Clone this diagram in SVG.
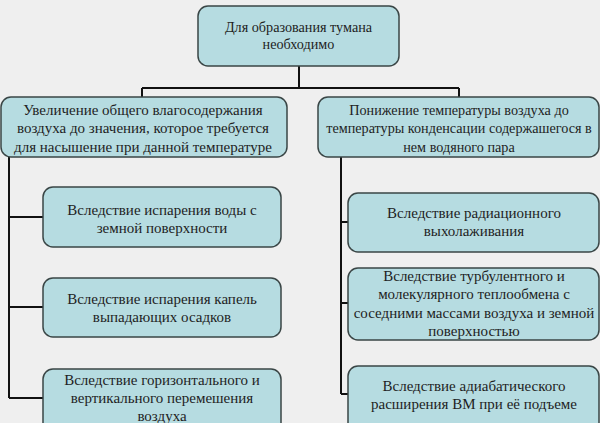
<svg xmlns="http://www.w3.org/2000/svg" width="600" height="423" viewBox="0 0 600 423">
<style>
.box{fill:#b6dce1;stroke:#3a4646;stroke-width:1.5}
.t{font-family:'Liberation Serif','DejaVu Serif',serif;font-size:15px;fill:#1e1e1e;text-anchor:middle}
.s{font-size:14.2px}
.c{fill:none;stroke:#111;stroke-width:2}
</style>
<rect width="600" height="423" fill="#efefef"/>
<g id="connectors">
<path class="c" d="M299 66V88M142 88H459M142 88V97M459 88V97"/>
<path class="c" d="M9 157V398M9 217H43M9 307H43M9 398H43"/>
<path class="c" d="M341 157V394M341 222H348M341 303H348M341 394H348"/>
</g>
<g id="root">
<rect class="box" x="198" y="6" width="201" height="60" rx="10"/>
<text class="t s" x="298.5" y="32">Для образования тумана</text>
<text class="t s" x="298.5" y="49">необходимо</text>
</g>
<g id="left1">
<rect class="box" x="1" y="97" width="286" height="60" rx="10"/>
<text class="t" x="143" y="115">Увеличение общего влагосодержания</text>
<text class="t" x="143" y="133">воздуха до значения, которое требуется</text>
<text class="t" x="143" y="152">для насышение  при данной температуре</text>
</g>
<g id="right1">
<rect class="box" x="318" y="97" width="281" height="60" rx="10"/>
<text class="t s" x="459" y="115">Понижение температуры воздуха до</text>
<text class="t s" x="459" y="133">температуры конденсации содержашегося в</text>
<text class="t s" x="459" y="152">нем водяного пара</text>
</g>
<g id="left2">
<rect class="box" x="43" y="187" width="238" height="60" rx="10"/>
<text class="t" x="162" y="215">Вследствие испарения воды с</text>
<text class="t" x="162" y="233">земной поверхности</text>
</g>
<g id="left3">
<rect class="box" x="43" y="278" width="238" height="59" rx="10"/>
<text class="t" x="162" y="304">Вследствие испарения капель</text>
<text class="t" x="162" y="322">выпадающих осадков</text>
</g>
<g id="left4">
<rect class="box" x="43" y="369" width="238" height="70" rx="10"/>
<text class="t" x="162" y="385">Вследствие горизонтального и</text>
<text class="t" x="162" y="403">вертикального перемешения</text>
<text class="t" x="162" y="421">воздуха</text>
</g>
<g id="right2">
<rect class="box" x="348" y="193" width="251" height="59" rx="10"/>
<text class="t" x="474" y="218">Вследствие радиационного</text>
<text class="t" x="474" y="236">выхолаживания</text>
</g>
<g id="right3">
<rect class="box" x="348" y="268" width="251" height="72" rx="10"/>
<text class="t" x="474" y="281">Вследствие турбулентного и</text>
<text class="t" x="474" y="299">молекулярного теплообмена с</text>
<text class="t" x="474" y="318">соседними массами воздуха и земной</text>
<text class="t" x="474" y="336">поверхностью</text>
</g>
<g id="right4">
<rect class="box" x="348" y="366" width="251" height="70" rx="10"/>
<text class="t" x="474" y="391">Вследствие адиабатического</text>
<text class="t" x="474" y="409">расширения ВМ при её подъеме</text>
</g>
</svg>
